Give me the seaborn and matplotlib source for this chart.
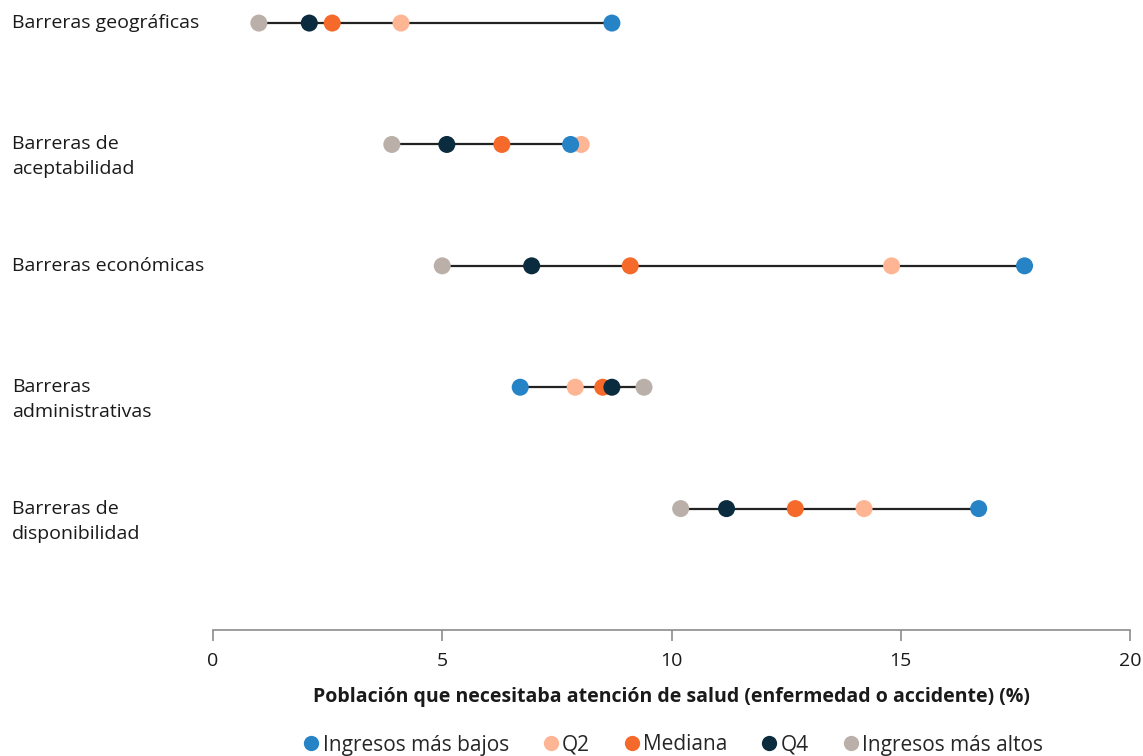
import pandas as pd
import numpy as np
import matplotlib.pyplot as plt
import matplotlib.transforms as mtransforms
import seaborn as sns
from matplotlib.lines import Line2D

sns.set_theme(style="white")
plt.rcParams['font.family'] = ['Open Sans', 'DejaVu Sans']

# -------------------------------
# Data
# -------------------------------
barriers = ["Barreras geográficas",
            "Barreras de\naceptabilidad",
            "Barreras económicas",
            "Barreras\nadministrativas",
            "Barreras de\ndisponibilidad"]

groups = ["Ingresos más bajos", "Q2", "Mediana", "Q4", "Ingresos más altos"]

low = [8.7, 7.8, 17.7, 6.7, 16.7]
q2 = [4.1, 8.03, 14.8, 7.9, 14.2]
mediana = [2.6, 6.3, 9.1, 8.5, 12.7]
q4 = [2.1, 5.1, 6.95, 8.7, 11.2]
high = [1.0, 3.9, 5.0, 9.4, 10.2]

colors = ["#2683C6", "#FDB594", "#F56A2A", "#0B2C3F", "#BAB0A9"]

# draw order (later on top)
draw_order = [("Q2", q2), ("Mediana", mediana), ("Q4", q4),
              ("Ingresos más altos", high), ("Ingresos más bajos", low)]

rows = []
for g, vals in draw_order:
    for i, v in enumerate(vals):
        rows.append({"barrier": i, "group": g, "value": v})
df = pd.DataFrame(rows)

# -------------------------------
# Plot
# -------------------------------
fig = plt.figure(figsize=(11.43, 7.56), dpi=100)
ax = fig.add_axes([213 / 1143, 1 - 630 / 756, (1130 - 213) / 1143, 630 / 756])

all_vals = np.array([low, q2, mediana, q4, high])
ax.hlines(range(len(barriers)), all_vals.min(axis=0), all_vals.max(axis=0),
          color="#222222", lw=1.6, zorder=1)

sns.scatterplot(data=df, x="value", y="barrier", hue="group",
                hue_order=groups, palette=colors, s=150,
                edgecolor="none", linewidth=0, legend=False, ax=ax, zorder=2)

ax.set_xlim(0, 20)
ax.set_ylim(5, -0.19)
ax.set_xticks([0, 5, 10, 15, 20])
ax.set_yticks([])
ax.set_ylabel("")
ax.set_xlabel("Población que necesitaba atención de salud (enfermedad o accidente) (%)",
              fontsize=14, fontweight="bold", color="#1a1a1a", labelpad=12)

for s in ["top", "right", "left"]:
    ax.spines[s].set_visible(False)
ax.spines["bottom"].set_color("#8c8c8c")
ax.spines["bottom"].set_linewidth(1.2)
ax.tick_params(axis="x", direction="out", length=8, width=1.2, color="#8c8c8c",
               labelsize=14, labelcolor="#1a1a1a", pad=8, bottom=True)
ax.set_facecolor("white")

# category labels on the left, first line centred on the row
trans = mtransforms.blended_transform_factory(fig.transFigure, ax.transData)
for i, lab in enumerate(barriers):
    for k, line in enumerate(lab.split("\n")):
        ax.annotate(line, xy=(12 / 1143, i), xycoords=trans,
                    xytext=(0, -k * 25 * 0.72), textcoords="offset points",
                    ha="left", va="center", fontsize=14, color="#1a1a1a")

handles = [Line2D([0], [0], marker="o", color="none", markerfacecolor=c,
                  markeredgecolor="none", markersize=11) for c in colors]
fig.legend(handles, groups, loc="center", bbox_to_anchor=(672 / 1143, 1 - 745 / 756),
           ncol=5, frameon=False, fontsize=15, handletextpad=0.05,
           columnspacing=1.5, handlelength=1.0, borderaxespad=0)

fig.savefig("out.png", dpi=100, facecolor="white")
